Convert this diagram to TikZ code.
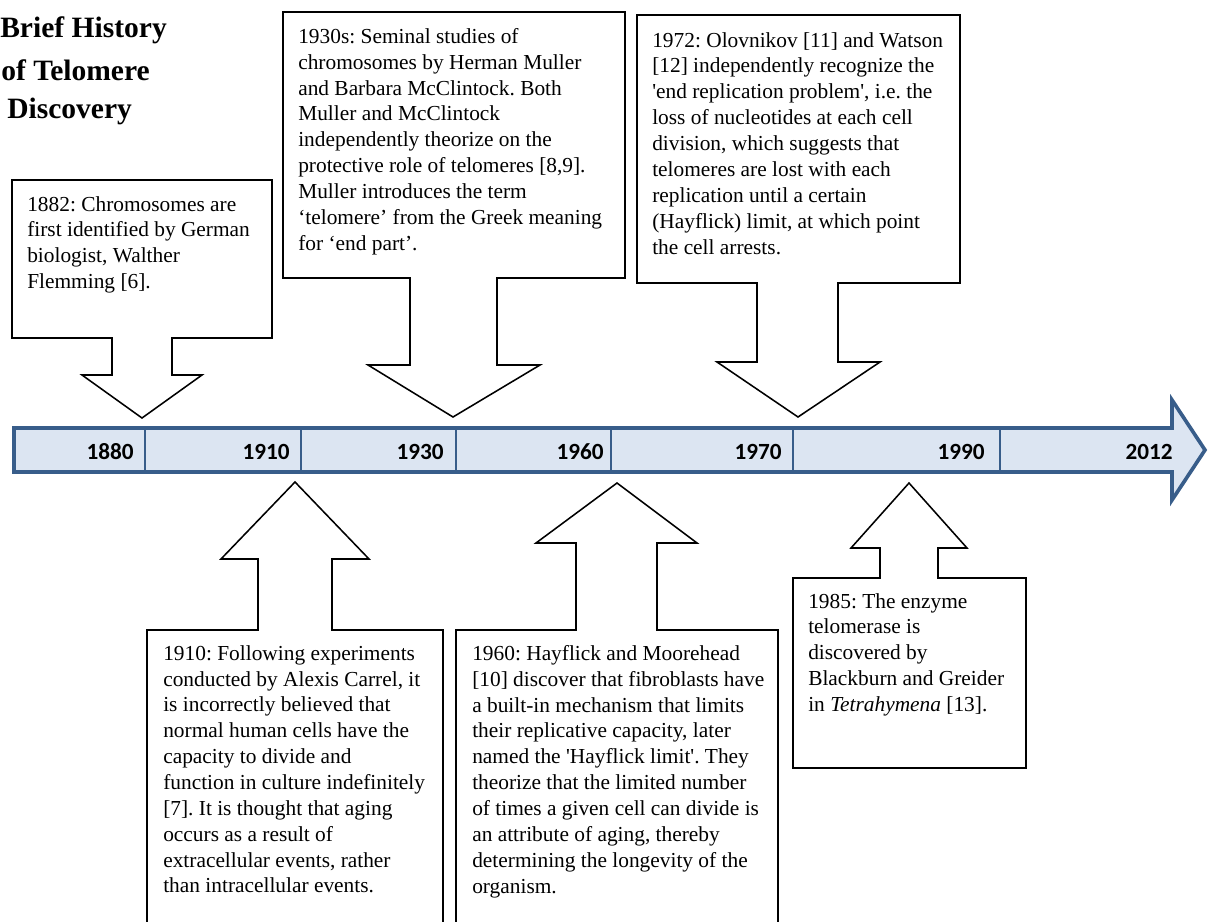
\documentclass[tikz,border=0pt]{standalone}
\usepackage{fontspec}
\setmainfont{Liberation Serif}
\newfontfamily\yearfont{Carlito}
\usetikzlibrary{positioning}
\definecolor{barblue}{RGB}{56,93,138}
\definecolor{barfill}{RGB}{220,229,242}
\frenchspacing

\begin{document}
\begin{tikzpicture}[
  x = 0.025cm,
  y = -0.025cm,
  callout/.style = {
    draw,
    fill = white,
    line width = 1.1pt,
    line join = miter,
  },
  boxtext/.style = {
    anchor = north west,
    inner sep = 0pt,
    align = left,
    font = \fontsize{15.2}{18.4}\selectfont,
  },
  yearlabel/.style = {
    anchor = east,
    inner sep = 0pt,
    font = \yearfont\bfseries\fontsize{16.5}{18}\selectfont,
  },
  timebar/.style = {
    draw = barblue,
    fill = barfill,
    line width = 2.6pt,
    line join = miter,
  },
  divider/.style = {
    draw = barblue,
    line width = 2pt,
  },
  titleline/.style = {
    anchor = base west,
    inner sep = 0pt,
    font = \bfseries\fontsize{21}{25}\selectfont,
  },
]

  \useasboundingbox (0,0) rectangle (1208,921);

  % title
  \node[titleline] (title1) at (0,37) {Brief History};
  \node[titleline] (title2) at (1,80) {of Telomere};
  \node[titleline] (title3) at (7,118) {Discovery};

  % time line
  \draw[timebar] (14,428) -- (1172,428) -- (1172,400) -- (1205,450)
    -- (1172,500) -- (1172,472) -- (14,472) -- cycle;
  \draw[divider] (145,428) -- (145,472);
  \draw[divider] (301,428) -- (301,472);
  \draw[divider] (456,428) -- (456,472);
  \draw[divider] (611,428) -- (611,472);
  \draw[divider] (793,428) -- (793,472);
  \draw[divider] (1000,428) -- (1000,472);

  \node[yearlabel] (y1880) at (134,452) {1880};
  \node[yearlabel] (y1910) at (290,452) {1910};
  \node[yearlabel] (y1930) at (444,452) {1930};
  \node[yearlabel] (y1960) at (604,452) {1960};
  \node[yearlabel] (y1970) at (782,452) {1970};
  \node[yearlabel] (y1990) at (985,452) {1990};
  \node[yearlabel] (y2012) at (1173,452) {2012};

  % callouts above the line
  \coordinate (tip1882) at (142,418);
  \coordinate (tip1930) at (453,417);
  \coordinate (tip1972) at (798,417);

  \draw[callout] (12,180) -- (272,180) -- (272,338) -- (172,338) -- (172,375)
    -- (202,375) -- (tip1882) -- (82,375) -- (112,375) -- (112,338) -- (12,338) -- cycle;
  \draw[callout] (283,12) -- (625,12) -- (625,278) -- (497,278) -- (497,365)
    -- (540,365) -- (tip1930) -- (368,365) -- (410,365) -- (410,278) -- (283,278) -- cycle;
  \draw[callout] (637,15) -- (960,15) -- (960,283) -- (838,283) -- (838,362)
    -- (880,362) -- (tip1972) -- (717,362) -- (757,362) -- (757,283) -- (637,283) -- cycle;

  \node[boxtext] (t1882) at (27,196) {1882: Chromosomes are\\
    first identified by German\\
    biologist, Walther\\
    Flemming [6].};
  \node[boxtext] (t1930) at (298,28) {1930s: Seminal studies of\\
    chromosomes by Herman Muller\\
    and Barbara McClintock. Both\\
    Muller and McClintock\\
    independently theorize on the\\
    protective role of telomeres [8,9].\\
    Muller introduces the term\\
    ‘telomere’ from the Greek meaning\\
    for ‘end part’.};
  \node[boxtext] (t1972) at (652,32) {1972: Olovnikov [11] and Watson\\
    {[12]} independently recognize the\\
    \textquotesingle end replication problem\textquotesingle, i.e. the\\
    loss of nucleotides at each cell\\
    division, which suggests that\\
    telomeres are lost with each\\
    replication until a certain\\
    (Hayflick) limit, at which point\\
    the cell arrests.};

  % callouts below the line
  \coordinate (tip1910) at (295,482);
  \coordinate (tip1960) at (617,483);
  \coordinate (tip1985) at (909,483);

  \draw[callout] (147,940) -- (147,630) -- (258,630) -- (258,559) -- (221,559)
    -- (tip1910) -- (369,559) -- (332,559) -- (332,630) -- (443,630) -- (443,940) -- cycle;
  \draw[callout] (456,940) -- (456,630) -- (576,630) -- (576,543) -- (536,543)
    -- (tip1960) -- (697,543) -- (657,543) -- (657,630) -- (778,630) -- (778,940) -- cycle;
  \draw[callout] (793,768) -- (793,578) -- (880,578) -- (880,548) -- (851,548)
    -- (tip1985) -- (967,548) -- (938,548) -- (938,578) -- (1026,578) -- (1026,768) -- cycle;

  \node[boxtext] (t1910) at (163,645) {1910: Following experiments\\
    conducted by Alexis Carrel, it\\
    is incorrectly believed that\\
    normal human cells have the\\
    capacity to divide and\\
    function in culture indefinitely\\
    {[7]}. It is thought that aging\\
    occurs as a result of\\
    extracellular events, rather\\
    than intracellular events.};
  \node[boxtext] (t1960) at (472,645) {1960: Hayflick and Moorehead\\
    {[10]} discover that fibroblasts have\\
    a built-in mechanism that limits\\
    their replicative capacity, later\\
    named the \textquotesingle Hayflick limit\textquotesingle. They\\
    theorize that the limited number\\
    of times a given cell can divide is\\
    an attribute of aging, thereby\\
    determining the longevity of the\\
    organism.};
  \node[boxtext] (t1985) at (808,593) {1985: The enzyme\\
    telomerase is\\
    discovered by\\
    Blackburn and Greider\\
    in \textit{Tetrahymena} [13].};

\end{tikzpicture}
\end{document}
